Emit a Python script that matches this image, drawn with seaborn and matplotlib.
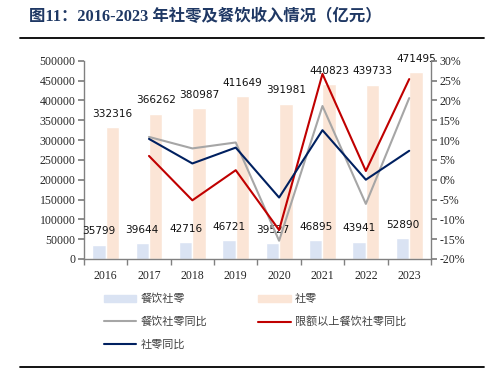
import numpy as np
import pandas as pd
import matplotlib.pyplot as plt
import seaborn as sns
from matplotlib.patches import Patch
from matplotlib.lines import Line2D

sns.set_theme(style='ticks')
plt.rcParams['font.family'] = ['Liberation Serif', 'Noto Sans CJK SC', 'DejaVu Sans']
plt.rcParams['axes.unicode_minus'] = False

# 数据（亿元 / %）
years = ['2016', '2017', '2018', '2019', '2020', '2021', '2022', '2023']
catering = [35799, 39644, 42716, 46721, 39527, 46895, 43941, 52890]
retail = [332316, 366262, 380987, 411649, 391981, 440823, 439733, 471495]
catering_yoy = [None, 10.8, 7.9, 9.4, -15.4, 18.6, -6.1, 20.6]
above_quota_yoy = [None, 6.0, -5.2, 2.4, -12.7, 26.7, 2.2, 25.4]
retail_yoy = [None, 10.3, 4.1, 8.1, -4.5, 12.5, 0.0, 7.3]

bar_names = ['餐饮社零', '社零']
line_names = ['餐饮社零同比', '限额以上餐饮社零同比', '社零同比']
bar_colors = ['#DAE3F3', '#FBE5D6']
line_colors = ['#A6A6A6', '#C00000', '#002060']

df_bar = pd.DataFrame({
    'year': years * 2,
    'value': catering + retail,
    'series': [bar_names[0]] * len(years) + [bar_names[1]] * len(years),
})
pos = np.arange(len(years))
df_line = pd.DataFrame({
    'x': np.tile(pos, 3),
    'yoy': catering_yoy + above_quota_yoy + retail_yoy,
    'series': [n for n in line_names for _ in years],
}).dropna()

fig = plt.figure(figsize=(4.88, 3.90), dpi=100)
ax = fig.add_axes([0.172, 0.336, 0.711, 0.508])

sns.barplot(data=df_bar, x='year', y='value', hue='series', palette=bar_colors,
            width=0.62, saturation=1, legend=False, ax=ax)

# 柱上数据标签
for cont in ax.containers:
    for rect in cont:
        ax.annotate(f'{int(rect.get_height())}',
                    (rect.get_x() + rect.get_width() / 2, rect.get_height()),
                    xytext=(0, 6), textcoords='offset points', ha='center', va='bottom',
                    fontsize=7.6, family='DejaVu Sans', color='#111111')

ax.set_xlim(-0.5, len(years) - 0.5)
ax.set_ylim(0, 500000)
ax.set_yticks(np.arange(0, 500001, 50000))
ax.set_xlabel('')
ax.set_ylabel('')

ax2 = ax.twinx()
sns.lineplot(data=df_line, x='x', y='yoy', hue='series', hue_order=line_names,
             palette=line_colors, linewidth=1.5, legend=False, ax=ax2)
ax2.set_ylim(-20, 30)
ax2.set_yticks(np.arange(-20, 31, 5))
ax2.set_yticklabels([f'{v}%' for v in range(-20, 31, 5)])
ax2.set_ylabel('')
ax2.set_xlim(-0.5, len(years) - 0.5)

# 坐标轴样式
ax.set_xticks(pos)
ax.set_xticklabels(years)
ax.set_xticks(np.arange(-0.5, len(years), 1), minor=True)
ax.tick_params(axis='x', which='major', length=0, pad=8, labelsize=8.5)
ax.tick_params(axis='x', which='minor', length=4, color='#808080')
ax.tick_params(axis='y', length=4, color='#808080', labelsize=8.5, pad=2)
ax2.tick_params(axis='y', length=4, color='#808080', labelsize=8.5, pad=2)
for a in (ax, ax2):
    a.spines['top'].set_visible(False)
    for s in ('left', 'right', 'bottom'):
        a.spines[s].set_color('#808080')
        a.spines[s].set_linewidth(1.0)
ax2.spines['left'].set_visible(False)
ax2.spines['bottom'].set_visible(False)
ax.spines['right'].set_visible(False)

# 图例
handles = [
    Patch(color=bar_colors[0], label=bar_names[0]),
    Line2D([], [], color=line_colors[0], lw=1.5, label=line_names[0]),
    Line2D([], [], color=line_colors[2], lw=1.5, label=line_names[2]),
    Patch(color=bar_colors[1], label=bar_names[1]),
    Line2D([], [], color=line_colors[1], lw=1.5, label=line_names[1]),
]
leg = fig.legend(handles=handles, ncol=2, loc='upper left', bbox_to_anchor=(0.213, 0.247),
                 frameon=False, fontsize=8, handlelength=2.9, handleheight=0.55,
                 handletextpad=0.4, columnspacing=4.6, labelspacing=1.1,
                 borderaxespad=0, borderpad=0)
for t in leg.get_texts():
    t.set_color('#404040')
    t.set_family(['Noto Sans CJK SC'])

# 标题与分隔线
fig.text(0.059, 0.956, '图11：2016-2023 年社零及餐饮收入情况（亿元）', fontsize=11.8,
         fontweight='bold', color='#1F3864', va='center', ha='left',
         family=['Liberation Serif', 'Noto Sans CJK SC'])
fig.add_artist(Line2D([0.041, 0.992], [0.903, 0.903], color='black', lw=1.3))
fig.add_artist(Line2D([0.041, 0.992], [0.059, 0.059], color='black', lw=1.3))

fig.savefig('out.png', dpi=100)
